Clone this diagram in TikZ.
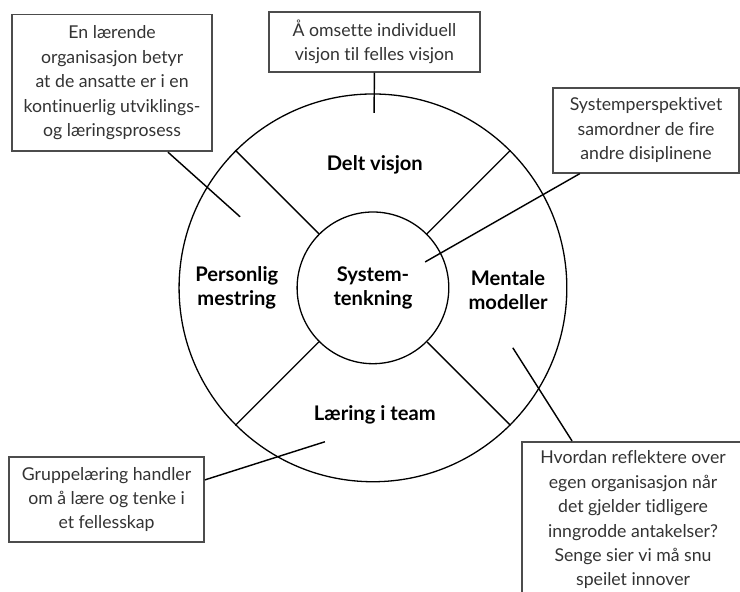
\documentclass[tikz,border=0pt]{standalone}
\usepackage{fontspec}
\setmainfont[Ligatures=NoCommon]{Lato}
\usepackage{tikz}

\tikzset{
  note/.style={draw=black!70, line width=1.3pt, fill=white, align=center,
    text=black!80, inner sep=1pt, font=\fontsize{13.6}{18.8}\selectfont},
  part/.style={align=center, font=\fontsize{15.5}{18.5}\selectfont\bfseries},
  ring/.style={draw, circle, line width=1pt, inner sep=0pt},
  lead/.style={line width=1.1pt},
}

\begin{document}
\begin{tikzpicture}

\clip(-10.08,-8.22) rectangle (9.92,7.78);

% the five disciplines
\node[ring, minimum size=10.48cm](outer) at (0,0) {};
\node[ring, minimum size=4.1cm, part](sys) at (0,0) {System-\\tenkning};
\foreach \a in {45,135,225,315}
  \draw[line width=1pt](sys.\a)--(outer.\a);

\node[part](delt) at (0.05,3.32) {Delt visjon};
\node[part](pers) at (-3.68,0) {Personlig\\mestring};
\node[part](ment) at (3.65,-0.05) {Mentale\\modeller};
\node[part](team) at (0.05,-3.43) {Læring i team};

% boxes round the circle
\node[note, minimum width=5.41cm, minimum height=3.7cm](box1) at (-7.05,5.54)
  {En lærende\\organisasjon betyr\\at de ansatte er i en\\kontinuerlig utviklings-\\og læringsprosess};
\node[note, minimum width=5.7cm, minimum height=1.62cm](box2) at (0.04,6.65)
  {Å omsette individuell\\visjon til felles visjon};
\node[note, minimum width=5.03cm, minimum height=2.3cm](box3) at (7.38,4.26)
  {Systemperspektivet\\samordner de fire\\andre disiplinene};
\node[note, minimum width=5.27cm, minimum height=2.3cm](box4) at (-7.2,-5.72)
  {Gruppelæring handler\\om å lære og tenke i\\et fellesskap};
\node[note, minimum width=6cm, minimum height=4.22cm](box5) at (7.03,-6.27)
  {Hvordan reflektere over\\egen organisasjon når\\det gjelder tidligere\\inngrodde antakelser?\\Senge sier vi må snu\\speilet innover};

\coordinate(t1) at (-3.59,1.92);
\coordinate(t2) at (0.03,4.73);
\coordinate(t3) at (1.41,0.7);
\coordinate(t4) at (-1.3,-4.16);
\coordinate(t5) at (3.78,-1.62);

\draw[lead]([xshift=1.51cm]box1.south)--(t1);
\draw[lead](box2.south)--(t2);
\draw[lead]([xshift=-1.79cm]box3.south)--(t3);
\draw[lead]([yshift=0.53cm]box4.east)--(t4);
\draw[lead]([xshift=-1.65cm]box5.north)--(t5);

\end{tikzpicture}
\end{document}
